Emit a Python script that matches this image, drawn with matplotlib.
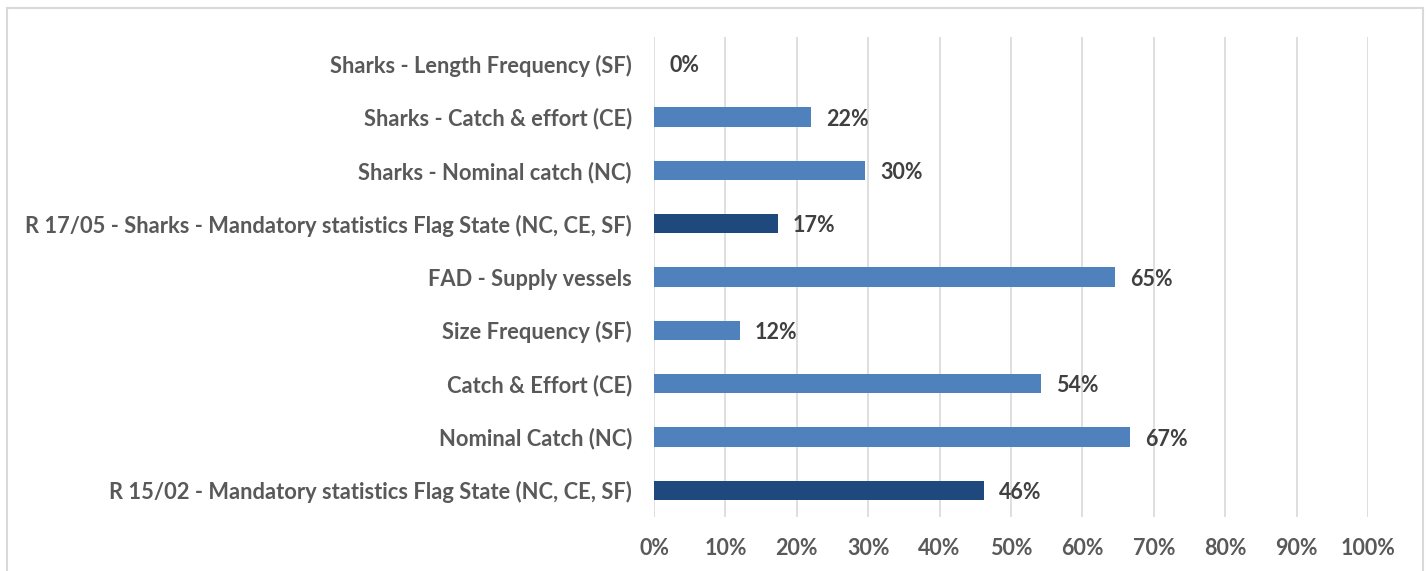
import matplotlib
matplotlib.use("Agg")
import matplotlib.pyplot as plt
from matplotlib.lines import Line2D

categories = [
    "R 15/02 - Mandatory statistics Flag State (NC, CE, SF)",
    "Nominal Catch (NC)",
    "Catch & Effort (CE)",
    "Size Frequency (SF)",
    "FAD - Supply vessels",
    "R 17/05 - Sharks - Mandatory statistics Flag State (NC, CE, SF)",
    "Sharks - Nominal catch (NC)",
    "Sharks - Catch & effort (CE)",
    "Sharks - Length Frequency (SF)",
]
values = [46.2, 66.6, 54.2, 12.0, 64.5, 17.3, 29.6, 22.0, 0.0]
labels = ["46%", "67%", "54%", "12%", "65%", "17%", "30%", "22%", "0%"]
is_summary = [True, False, False, False, False, True, False, False, False]
xticks = [0, 10, 20, 30, 40, 50, 60, 70, 80, 90, 100]

LIGHT = "#4F81BD"
DARK = "#1F497D"
FONT = "Lato"

fig = plt.figure(figsize=(14.26, 5.71), dpi=100)
ax = fig.add_axes([654/1426, 1-517/571, (1368-654)/1426, (517-37)/571])

colors = [DARK if s else LIGHT for s in is_summary]
y = list(range(len(categories)))
ax.barh(y, values, height=0.36, color=colors, zorder=3)
ax.set_ylim(-0.5, len(categories) - 0.5)
ax.set_xlim(0, 100)

for yi, v, lab in zip(y, values, labels):
    ax.annotate(lab, (v, yi), xytext=(11, -1.5), textcoords="offset points",
                va="center", ha="left", fontsize=15.5, fontweight="bold",
                color="#404040", family=FONT, zorder=4)

ax.set_yticks(y)
ax.set_yticklabels(categories, fontsize=15.75, fontweight="bold", color="#595959", family=FONT)
ax.set_xticks(xticks)
ax.set_xticklabels([f"{t}%" for t in xticks], fontsize=15.5, fontweight="bold", color="#595959", family=FONT)
ax.tick_params(axis="y", length=0, pad=16)
ax.tick_params(axis="x", length=0, pad=15)
ax.grid(axis="x", color="#D9D9D9", linewidth=1.2, zorder=0)
for s in ax.spines.values():
    s.set_visible(False)

# outer chart border (left, top, right)
bc = "#D9D9D9"
x0, x1, yt = 7/1426, 1423/1426, 1-7.5/571
fig.add_artist(Line2D([x0, x0], [0, yt], color=bc, linewidth=1.5, transform=fig.transFigure))
fig.add_artist(Line2D([x0, x1], [yt, yt], color=bc, linewidth=1.5, transform=fig.transFigure))
fig.add_artist(Line2D([x1, x1], [0, yt], color=bc, linewidth=1.5, transform=fig.transFigure))

fig.savefig("out.png", dpi=100, facecolor="white")
